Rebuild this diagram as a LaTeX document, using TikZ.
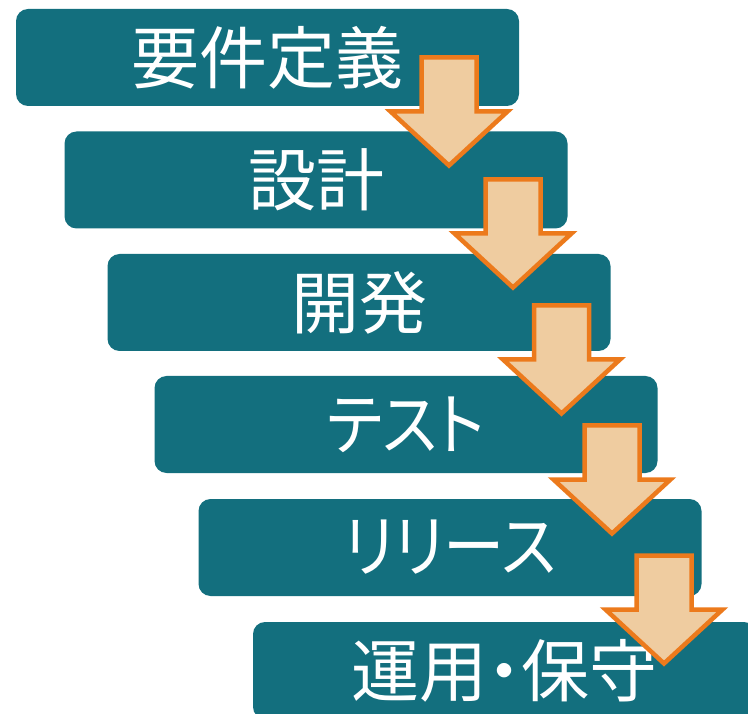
\documentclass[tikz,border=0pt]{standalone}
\usepackage{fontspec}
\newfontfamily\jpfont[RawFeature=+palt]{Noto Sans CJK JP}
\newfontfamily\jpkana[RawFeature=+palt,FakeStretch=0.9]{Noto Sans CJK JP}
\definecolor{boxteal}{HTML}{136F7E}
\definecolor{arrowline}{HTML}{EC7A1C}
\definecolor{arrowfill}{HTML}{EFCCA0}
\newcommand\stagetxt[1]{\raisebox{-3.5pt}{#1}}
\begin{document}
\begin{tikzpicture}[x=1pt,y=-1pt,
  stage/.style={rectangle, rounded corners=12pt, fill=boxteal, text=white,
    minimum width=503pt, minimum height=97pt, inner sep=0pt,
    font=\jpfont\fontsize{68}{68}\selectfont},
  kanastage/.style={stage, font=\jpkana\fontsize{68}{68}\selectfont},
  blockarrow/.style={draw=arrowline, fill=arrowfill, line width=4.5pt, miter limit=10}]
\useasboundingbox (0,0) rectangle (748,714);
\clip (0,0) rectangle (748,714);
\node[stage] (b1) at (267.5,57.5) {\stagetxt{要件定義}};
\node[stage] (b2) at (316,180) {\stagetxt{設計}};
\node[stage] (b3) at (359,302.5) {\stagetxt{開発}};
\node[kanastage] (b4) at (406,424.5) {\stagetxt{テスト}};
\node[kanastage] (b5) at (450,547.5) {\stagetxt{リリース}};
\node[stage] (b6) at (504.5,670.5) {\stagetxt{運用・保守}};
\foreach \cx/\ty in {449/57.5, 513/179.5, 561.5/305.5, 612/425.5, 664/555.5}
  \draw[blockarrow] (\cx-27.5,\ty) -- (\cx+27.5,\ty) -- (\cx+27.5,\ty+54)
    -- (\cx+58.5,\ty+54) -- (\cx,\ty+108) -- (\cx-58.5,\ty+54)
    -- (\cx-27.5,\ty+54) -- cycle;
\end{tikzpicture}
\end{document}
